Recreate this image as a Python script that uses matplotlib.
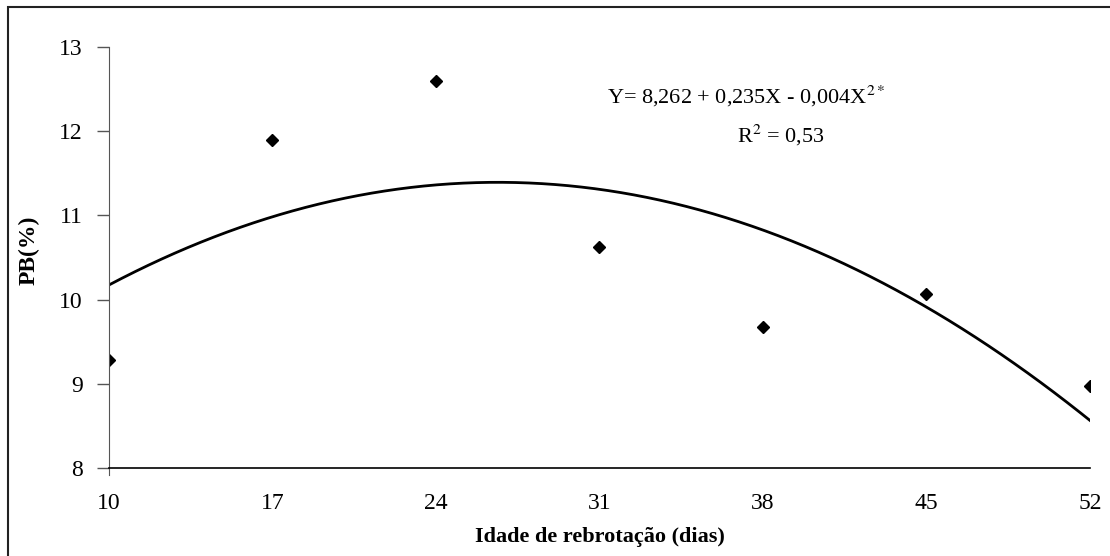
import numpy as np
import matplotlib.pyplot as plt
from matplotlib.patches import Rectangle

# Crude protein (PB %) by regrowth age
idade = [10, 17, 24, 31, 38, 45, 52]
pb = [9.28, 11.9, 12.6, 10.63, 9.68, 10.07, 8.97]
x_ticks = [10, 17, 24, 31, 38, 45, 52]
y_ticks = [8, 9, 10, 11, 12, 13]

plt.rcParams["font.family"] = ["Liberation Serif", "DejaVu Serif"]
plt.rcParams["mathtext.fontset"] = "stix"

fig = plt.figure(figsize=(11.1, 5.56), dpi=100)
ax = fig.add_axes([109 / 1110, 1 - 468 / 556, (1090 - 109) / 1110, (468 - 47) / 556])

# quadratic trend line through the points
coef = np.polyfit(idade, pb, 2)
xs = np.linspace(min(idade), max(idade), 300)
ax.plot(xs, np.polyval(coef, xs), color="black", lw=2)

ax.plot(idade, pb, linestyle="none", marker="D", ms=6.3, color="black")

ax.set_xlim(10, 52)
ax.set_ylim(8, 13)
ax.set_xticks(x_ticks)
ax.set_yticks(y_ticks)
ax.tick_params(axis="x", length=0, pad=18, labelsize=17)
ax.tick_params(axis="y", length=9, width=1, color="#555555", pad=10, labelsize=17)

for s in ["top", "right"]:
    ax.spines[s].set_visible(False)
ax.spines["left"].set_color("#555555")
ax.spines["left"].set_bounds(8 - 7 / 84.2, 13)
ax.spines["bottom"].set_color("black")
ax.spines["bottom"].set_linewidth(1.2)

fig.text(600 / 1110, 1 - 537 / 556, "Idade de rebrotação (dias)", ha="center", va="center",
         fontsize=16, fontweight="bold")
fig.text(29 / 1110, 1 - 250 / 556, "PB(%)", ha="center", va="center", rotation=90,
         fontsize=17, fontweight="bold")

# regression equation
fig.text(607 / 1110, 1 - 103 / 556, "Y= 8,262 + 0,235X - 0,004X$^{2*}$", ha="left",
         va="baseline", fontsize=16)
fig.text(737 / 1110, 1 - 142 / 556, "R$^{2}$ = 0,53", ha="left", va="baseline", fontsize=16)

# outer frame
fig.patches.append(Rectangle((8 / 1110, -0.05), 1.1, 1.05 - 7 / 556, transform=fig.transFigure,
                             fill=False, lw=1.5, edgecolor="#222222", clip_on=False))

fig.savefig("out.png", dpi=100)
